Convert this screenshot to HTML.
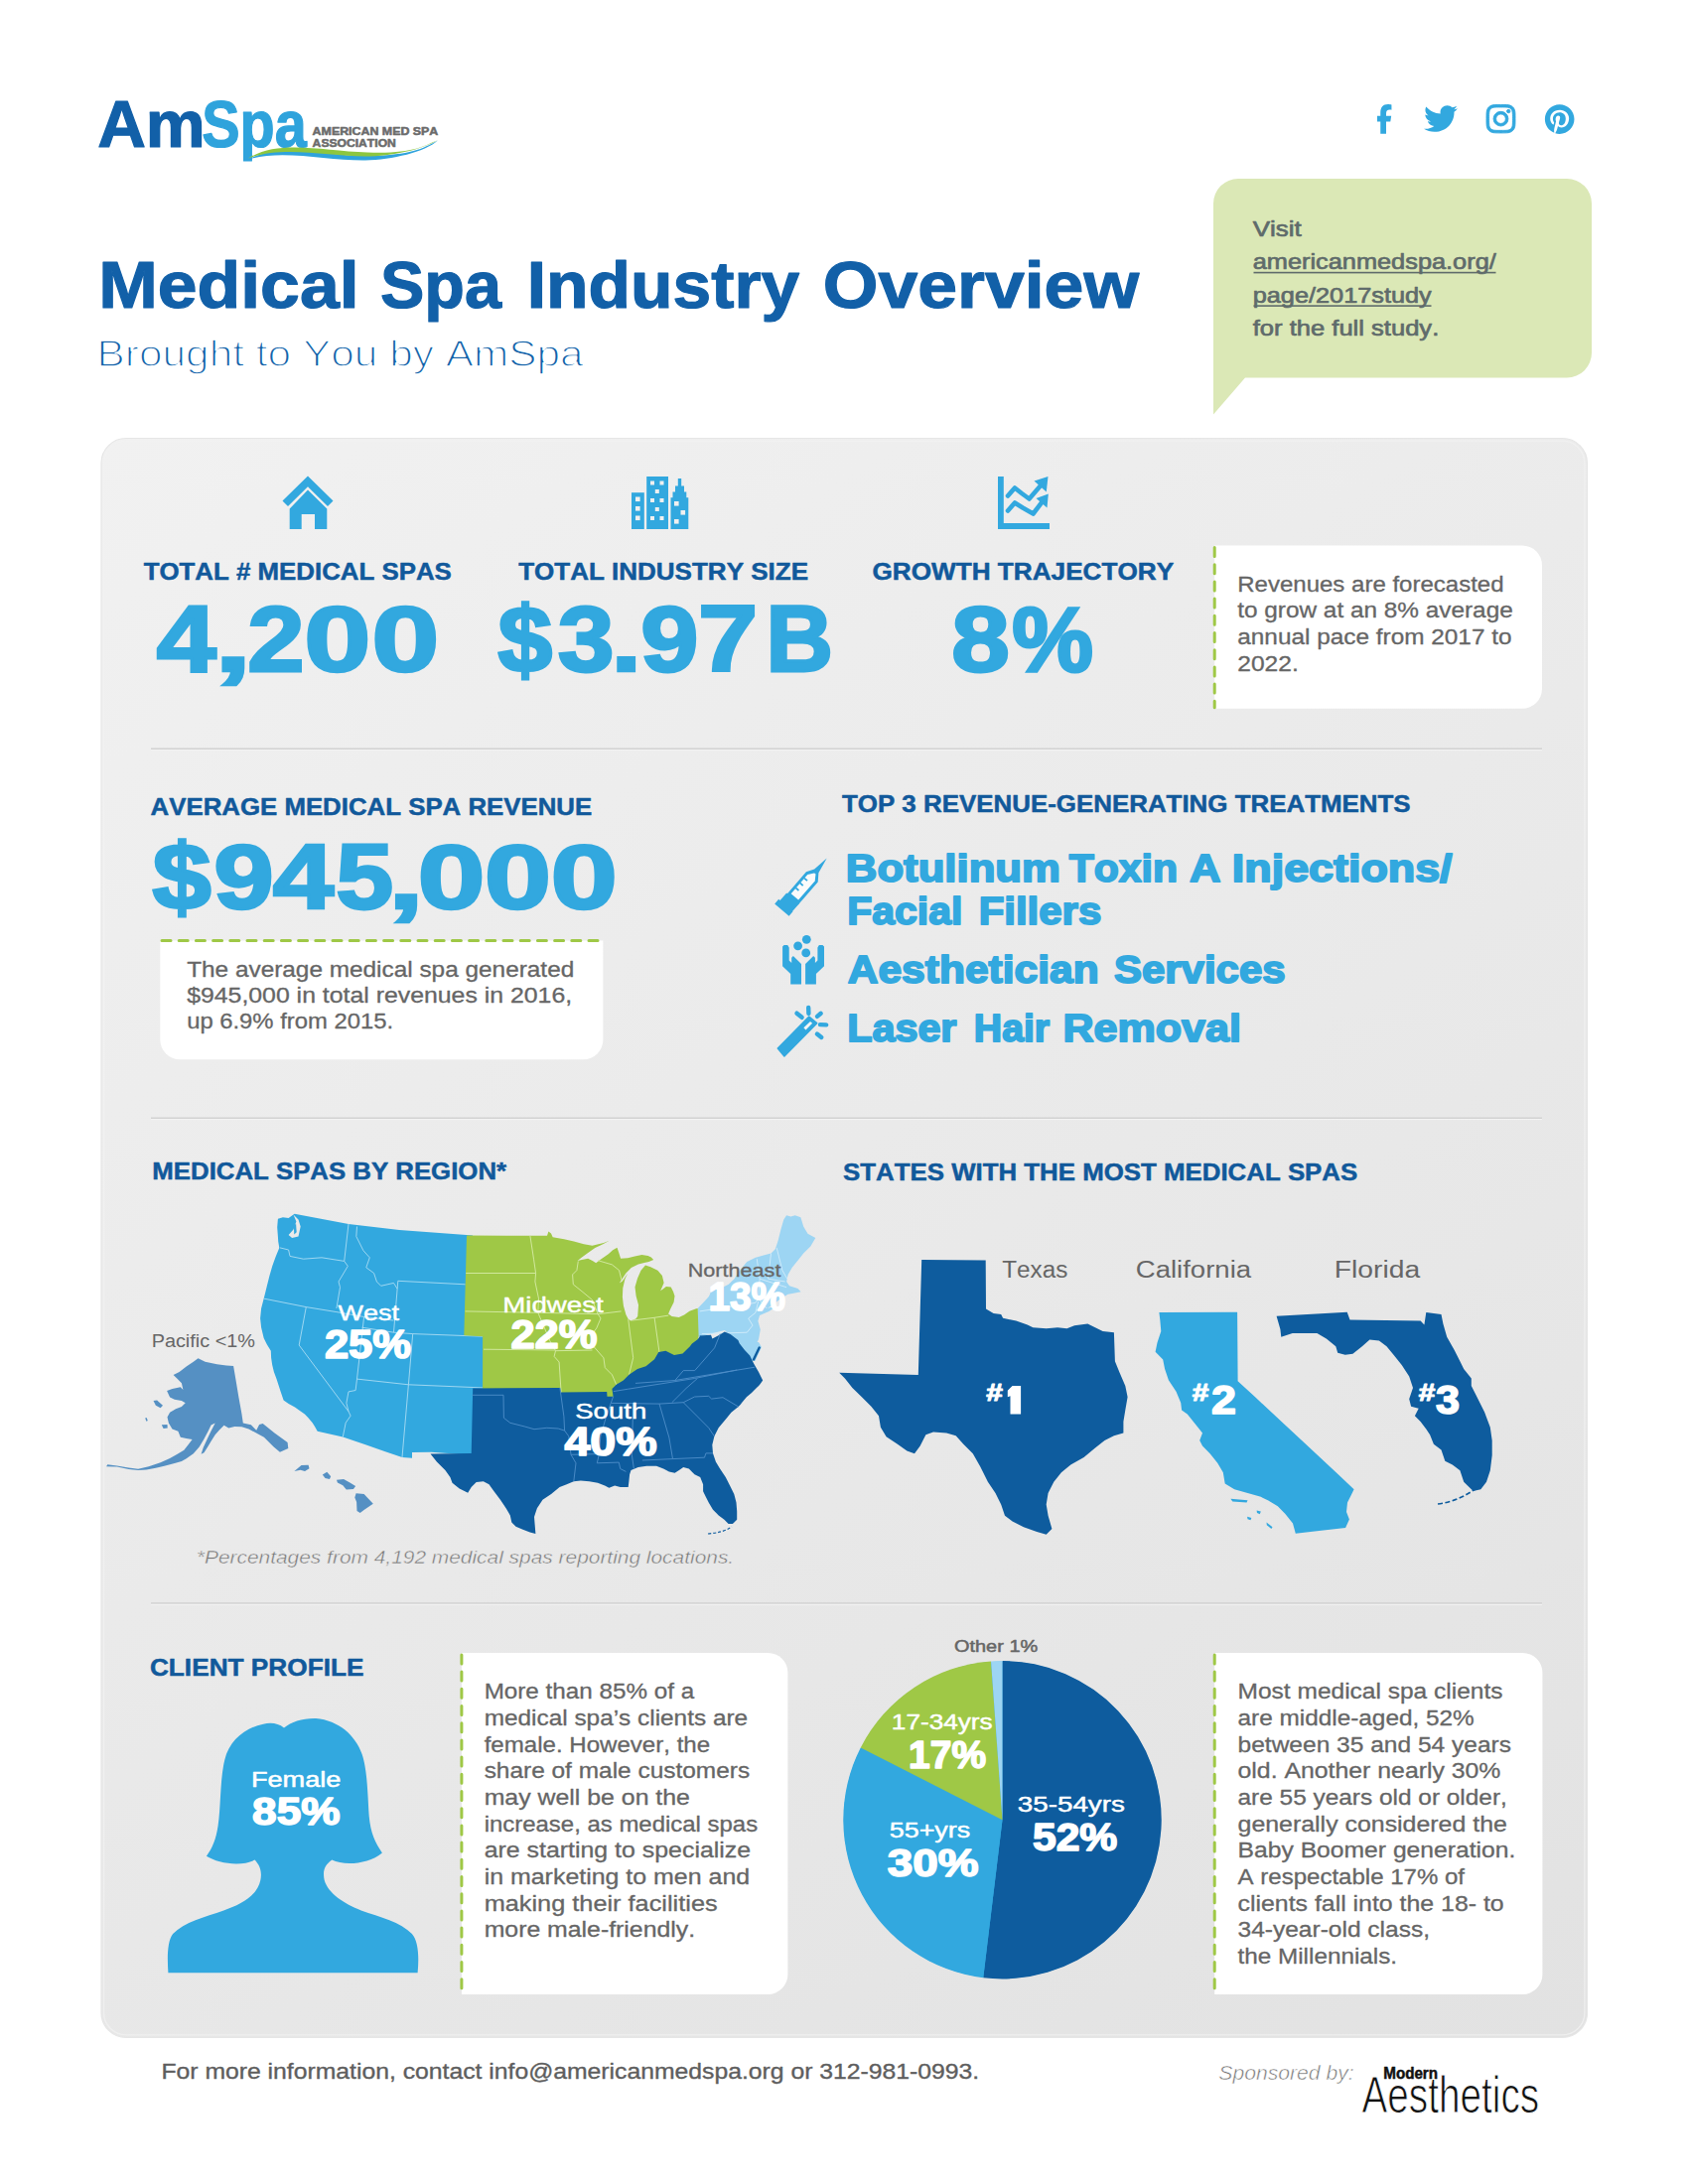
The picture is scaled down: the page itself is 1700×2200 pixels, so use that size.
<!DOCTYPE html>
<html lang="en"><head><meta charset="utf-8"><title>Medical Spa Industry Overview</title>
<style>html,body{margin:0;padding:0;background:#fff}svg{display:block}text{font-family:"Liberation Sans",sans-serif;white-space:pre;font-kerning:none}</style>
</head><body>
<svg width="1700" height="2200" viewBox="0 0 1700 2200">
<rect width="1700" height="2200" fill="#fff"/>
<text x="98.19" y="148.00" font-size="66.00" fill="#1260a8" font-weight="bold" textLength="108.62" lengthAdjust="spacingAndGlyphs" stroke="#1260a8" stroke-width="1.2" stroke-linejoin="round">Am</text>
<text x="203.19" y="148.00" font-size="66.00" fill="#2fa3dc" font-weight="bold" textLength="105.62" lengthAdjust="spacingAndGlyphs" stroke="#2fa3dc" stroke-width="1.2" stroke-linejoin="round">Spa</text>
<text x="314.64" y="135.50" font-size="10.20" fill="#6b6b6b" font-weight="bold" textLength="126.71" lengthAdjust="spacingAndGlyphs" stroke="#6b6b6b" stroke-width="0.5" stroke-linejoin="round">AMERICAN MED SPA</text>
<text x="314.64" y="147.50" font-size="10.20" fill="#6b6b6b" font-weight="bold" textLength="84.21" lengthAdjust="spacingAndGlyphs" stroke="#6b6b6b" stroke-width="0.5" stroke-linejoin="round">ASSOCIATION</text>
<path d="M250 160.5 C 285 142, 330 158, 372 157 S 425 150, 441 141.5 C 428 153, 395 161, 368 161.5 C 330 162, 285 150, 250 160.5Z" fill="#2fa3dc"/>
<path d="M250 159.5 C 280 140, 325 152, 370 153.5 S 425 148, 441 141 C 425 150.5, 395 157.5, 368 157.5 C 330 157.5, 285 146, 250 159.5Z" fill="#8dc63f"/>
<g fill="#32a8df">
<path transform="translate(1386.3 105.1) scale(0.0495 0.0578)" d="M80 299.3V512h116V299.3h86.5l18-97.8H196v-34.6c0-51.7 20.3-71.5 72.7-71.5 16.3 0 29.4.4 37 1.2V7.9C291.4 4 256.4 0 236.2 0 129.3 0 80 50.5 80 159.4v42.1H14v97.8z"/>
<path transform="translate(1434 103.1) scale(0.0663 0.064)" d="M459.4 151.7c.3 4.5.3 9.1.3 13.6 0 138.7-105.6 298.6-298.6 298.6-59.5 0-114.7-17.2-161.1-47.1 8.4 1 16.6 1.3 25.3 1.3 49.1 0 94.2-16.6 130.3-44.8-46.1-1-84.8-31.2-98.1-72.8 6.5 1 13 1.6 19.8 1.6 9.4 0 18.8-1.3 27.6-3.6-48.1-9.7-84.1-52-84.1-103v-1.3c14 7.8 30.2 12.7 47.4 13.3-28.3-18.8-46.8-51-46.8-87.4 0-19.5 5.2-37.4 14.3-53C87.4 130.8 165 172.4 252.1 176.9c-1.6-7.8-2.6-15.9-2.6-24C249.5 95.1 296.3 48 354.4 48c30.2 0 57.5 12.7 76.7 33.1 23.7-4.5 46.5-13.3 66.6-25.3-7.8 24.4-24.4 44.8-46.1 57.8 21.1-2.3 41.6-8.1 60.4-16.2-14.3 20.8-32.2 39.3-52.6 54.3"/>
<path stroke="#32a8df" stroke-width="14" transform="translate(1497 103.4) scale(0.0647 0.0636)" d="M224.3 141a115 115 0 1 0-.6 230 115 115 0 1 0 .6-230m-.6 40.4a74.6 74.6 0 1 1 .6 149.2 74.6 74.6 0 1 1-.6-149.2m93.4-45.1a26.8 26.8 0 1 1 53.6 0 26.8 26.8 0 1 1-53.6 0m129.7 27.2c-1.7-35.9-9.9-67.7-36.2-93.9-26.2-26.2-58-34.4-93.9-36.2-37-2.1-147.9-2.1-184.9 0-35.8 1.7-67.6 9.9-93.9 36.1s-34.4 58-36.2 93.9c-2.1 37-2.1 147.9 0 184.9 1.7 35.9 9.9 67.7 36.2 93.9s58 34.4 93.9 36.2c37 2.1 147.9 2.1 184.9 0 35.9-1.7 67.7-9.9 93.9-36.2 26.2-26.2 34.4-58 36.2-93.9 2.1-37 2.1-147.8 0-184.8M399 388c-7.8 19.6-22.9 34.7-42.6 42.6-29.5 11.7-99.5 9-132.1 9s-102.7 2.6-132.1-9c-19.6-7.8-34.7-22.9-42.6-42.6-11.7-29.5-9-99.5-9-132.1s-2.6-102.7 9-132.1c7.8-19.6 22.9-34.7 42.6-42.6 29.5-11.7 99.5-9 132.1-9s102.7-2.6 132.1 9c19.6 7.8 34.7 22.9 42.6 42.6 11.7 29.5 9 99.5 9 132.1s2.7 102.7-9 132.1"/>
<path transform="translate(1555.4 104.8) scale(0.0597)" d="M504 256c0 137-111 248-248 248-25.6 0-50.2-3.9-73.4-11.1 10.1-16.5 25.2-43.5 30.8-65 3-11.6 15.4-59 15.4-59 8.1 15.4 31.7 28.5 56.8 28.5 74.8 0 128.7-68.8 128.7-154.3 0-81.9-66.9-143.2-152.9-143.2-107 0-163.9 71.8-163.9 150.1 0 36.4 19.4 81.7 50.3 96.1 4.7 2.2 7.2 1.2 8.3-3.3.8-3.4 5-20.3 6.9-28.1.6-2.5.3-4.7-1.7-7.1-10.1-12.5-18.3-35.3-18.3-56.6 0-54.7 41.4-107.6 112-107.6 60.9 0 103.6 41.5 103.6 100.9 0 67.1-33.9 113.6-78 113.6-24.3 0-42.6-20.1-36.7-44.8 7-29.5 20.5-61.3 20.5-82.6 0-19-10.2-34.9-31.4-34.9-24.9 0-44.9 25.7-44.9 60.2 0 22 7.4 36.8 7.4 36.8s-24.500 103.8-29 123.200c-5 21.400-3 51.600-.900 71.200C73.400 450.900 8 361.100 8 256 8 119 119 8 256 8s248 111 248 248"/>
</g>
<text transform="translate(99.22 310.00) scale(1.0756 1)" font-size="66.50" fill="#1260a8" font-weight="bold" stroke="#1260a8" stroke-width="1.20" stroke-linejoin="round">Medical</text>
<text transform="translate(382.99 310.00) scale(0.9994 1)" font-size="66.50" fill="#1260a8" font-weight="bold" stroke="#1260a8" stroke-width="1.20" stroke-linejoin="round">Spa</text>
<text transform="translate(530.64 310.00) scale(1.0469 1)" font-size="66.50" fill="#1260a8" font-weight="bold" stroke="#1260a8" stroke-width="1.20" stroke-linejoin="round">Industry</text>
<text transform="translate(828.76 310.00) scale(1.0763 1)" font-size="66.50" fill="#1260a8" font-weight="bold" stroke="#1260a8" stroke-width="1.20" stroke-linejoin="round">Overview</text>
<text x="97.59" y="369.00" font-size="37.50" fill="#1260a8" textLength="490.12" lengthAdjust="spacingAndGlyphs" stroke="#ffffff" stroke-width="1.45" stroke-linejoin="round">Brought to You by AmSpa</text>
<path d="M1247 180 H1578 A25 25 0 0 1 1603 205 V355.500 A25 25 0 0 1 1578 380.500 H1254 L1222 417.500 V205 A25 25 0 0 1 1247 180Z" fill="#dbe8b6"/>
<text x="1261.71" y="238.00" font-size="22.50" fill="#5f6b6b" textLength="49.08" lengthAdjust="spacingAndGlyphs" stroke="#5f6b6b" stroke-width="0.7" stroke-linejoin="round">Visit</text>
<text x="1261.71" y="271.20" font-size="22.50" fill="#5f6b6b" textLength="245.07" lengthAdjust="spacingAndGlyphs" stroke="#5f6b6b" stroke-width="0.7" stroke-linejoin="round">americanmedspa.org/</text>
<rect x="1262.5" y="273.8" width="244" height="1.6" fill="#5f6b6b"/>
<text x="1261.71" y="304.80" font-size="22.50" fill="#5f6b6b" textLength="180.07" lengthAdjust="spacingAndGlyphs" stroke="#5f6b6b" stroke-width="0.7" stroke-linejoin="round">page/2017study</text>
<rect x="1262.5" y="307.3" width="179" height="1.6" fill="#5f6b6b"/>
<text x="1261.71" y="337.50" font-size="22.50" fill="#5f6b6b" textLength="187.57" lengthAdjust="spacingAndGlyphs" stroke="#5f6b6b" stroke-width="0.7" stroke-linejoin="round">for the full study.</text>
<defs><linearGradient id="pg" x1="0" y1="0" x2="0.694" y2="1.18"><stop offset="0" stop-color="#f1f1f1"/><stop offset="1" stop-color="#e2e2e2"/></linearGradient></defs>
<rect x="102" y="441.500" width="1496.500" height="1611" rx="25" fill="url(#pg)" stroke="#e6e6e6" stroke-width="1.2"/>
<rect x="104.6" y="444.1" width="1491.300" height="1605.8" rx="22.5" fill="none" stroke="#f2f2f2" stroke-opacity="0.75" stroke-width="1.4"/>
<rect x="152" y="753.5" width="1401" height="1.6" fill="#d2d2d2"/>
<rect x="152" y="755.0999999999999" width="1401" height="1" fill="#f4f4f4"/>
<rect x="152" y="1125.5" width="1401" height="1.6" fill="#d2d2d2"/>
<rect x="152" y="1127.1" width="1401" height="1" fill="#f4f4f4"/>
<rect x="152" y="1614.2" width="1401" height="1.6" fill="#d2d2d2"/>
<rect x="152" y="1615.8" width="1401" height="1" fill="#f4f4f4"/>
<g fill="#32a8df">
<path d="M310 479.500 L335.500 504.500 L330 510 L310 490.300 L290 510 L284.500 504.500Z"/>
<path d="M310 493.500 L329.300 512.500 V533 H317 V518 H303.700 V533 H291.700 V512.500Z"/>
</g>
<text x="144.65" y="584.30" font-size="24.30" fill="#11599b" font-weight="bold" textLength="310.20" lengthAdjust="spacingAndGlyphs" stroke="#11599b" stroke-width="0.5" stroke-linejoin="round">TOTAL # MEDICAL SPAS</text>
<text transform="translate(157.87 675.50) scale(1.1858 1.0302)" font-size="91.00" fill="#32a8df" font-weight="bold" stroke="#32a8df" stroke-width="2.71" stroke-linejoin="miter">4</text>
<text transform="translate(215.75 675.50) scale(1.4978 1.0000)" font-size="91.00" fill="#32a8df" font-weight="bold" stroke="#32a8df" stroke-width="2.40" stroke-linejoin="miter">,</text>
<text transform="translate(249.13 675.50) scale(1.1321 1.0151)" font-size="91.00" fill="#32a8df" font-weight="bold" stroke="#32a8df" stroke-width="2.79" stroke-linejoin="miter">2</text>
<text transform="translate(306.22 675.50) scale(1.3286 1.0151)" font-size="91.00" fill="#32a8df" font-weight="bold" stroke="#32a8df" stroke-width="2.56" stroke-linejoin="miter">0</text>
<text transform="translate(374.15 675.50) scale(1.3471 1.0151)" font-size="91.00" fill="#32a8df" font-weight="bold" stroke="#32a8df" stroke-width="2.54" stroke-linejoin="miter">0</text>
<g fill="#32a8df">
<rect x="636" y="496.2" width="12.8" height="36.8"/>
<rect x="651.200" y="480" width="21.8" height="53"/>
<path d="M675.500 533 V501.200 H677.500 V495.500 H680 V489.500 H682.800 V482 H686.200 V489.500 H689 V495.500 H691.300 V501.200 H693.300 V533Z"/>
</g>
<g fill="#f0f0f0">
<rect x="640" y="500.5" width="4.6" height="4.6"/>
<rect x="640" y="510" width="4.6" height="4.6"/>
<rect x="640" y="519.5" width="4.6" height="4.6"/>
<rect x="655" y="484.5" width="4" height="4"/>
<rect x="664.5" y="484.5" width="4" height="4"/>
<rect x="659.8" y="493" width="4" height="4"/>
<rect x="655" y="502" width="4" height="4"/>
<rect x="664.5" y="502" width="4" height="4"/>
<rect x="659.8" y="511" width="4" height="4"/>
<rect x="655" y="520" width="4" height="4"/>
<rect x="664.5" y="520" width="4" height="4"/>
<rect x="679" y="505" width="4.6" height="4.6"/>
<rect x="685.5" y="514" width="4.6" height="4.6"/>
<rect x="679" y="523" width="4.6" height="4.6"/>
</g>
<text x="522.15" y="584.30" font-size="24.30" fill="#11599b" font-weight="bold" textLength="291.90" lengthAdjust="spacingAndGlyphs" stroke="#11599b" stroke-width="0.5" stroke-linejoin="round">TOTAL INDUSTRY SIZE</text>
<text transform="translate(501.40 677.00) scale(1.0390 1.0000)" font-size="94.64" fill="#32a8df" font-weight="bold" stroke="#32a8df" stroke-width="2.94" stroke-linejoin="miter">$</text>
<text transform="translate(561.66 675.50) scale(1.1209 1.0151)" font-size="91.00" fill="#32a8df" font-weight="bold" stroke="#32a8df" stroke-width="2.81" stroke-linejoin="miter">3</text>
<text transform="translate(615.54 675.50) scale(1.2070 1.0000)" font-size="91.00" fill="#32a8df" font-weight="bold" stroke="#32a8df" stroke-width="2.72" stroke-linejoin="miter">.</text>
<text transform="translate(645.37 675.50) scale(1.1502 1.0151)" font-size="91.00" fill="#32a8df" font-weight="bold" stroke="#32a8df" stroke-width="2.77" stroke-linejoin="miter">9</text>
<text transform="translate(703.05 675.50) scale(1.1897 1.0302)" font-size="91.00" fill="#32a8df" font-weight="bold" stroke="#32a8df" stroke-width="2.70" stroke-linejoin="miter">7</text>
<text transform="translate(771.45 675.50) scale(1.0271 1.0302)" font-size="91.00" fill="#32a8df" font-weight="bold" stroke="#32a8df" stroke-width="2.92" stroke-linejoin="miter">B</text>
<g fill="none" stroke="#32a8df">
<path d="M1007.900 480 V530 H1057" stroke-width="5.8"/>
<path d="M1015 499.500 L1022 491.500 L1029 497 L1036.500 502.500 L1049 488" stroke-width="4.6" stroke-linejoin="round" stroke-linecap="round"/>
<path d="M1015 514.500 L1022 506.500 L1030 511.500 L1040.500 517.500 L1050 505" stroke-width="4.6" stroke-linejoin="round" stroke-linecap="round"/>
</g>
<path d="M1055.500 480 L1053.800 495.500 L1041.500 484.500Z" fill="#32a8df"/>
<path d="M1055.800 497.500 L1054.500 511.500 L1043.500 502Z" fill="#32a8df"/>
<text x="878.45" y="584.30" font-size="24.30" fill="#11599b" font-weight="bold" textLength="303.70" lengthAdjust="spacingAndGlyphs" stroke="#11599b" stroke-width="0.5" stroke-linejoin="round">GROWTH TRAJECTORY</text>
<text transform="translate(958.16 675.50) scale(1.1576 1.0151)" font-size="91.00" fill="#32a8df" font-weight="bold" stroke="#32a8df" stroke-width="2.76" stroke-linejoin="miter">8</text>
<text transform="translate(1019.21 675.50) scale(1.0099 1.0187)" font-size="91.00" fill="#32a8df" font-weight="bold" stroke="#32a8df" stroke-width="2.96" stroke-linejoin="miter">%</text>
<path d="M1223.2 549.5 H1533 A20 20 0 0 1 1553 569.5 V693.8 A20 20 0 0 1 1533 713.8 H1223.2Z" fill="#fff"/>
<line x1="1223.2" y1="551.5" x2="1223.2" y2="712.8" stroke="#9fc846" stroke-width="3" stroke-dasharray="9 8.2" stroke-linecap="round"/>
<text x="1246.25" y="595.50" font-size="21.50" fill="#666666" textLength="268.31" lengthAdjust="spacingAndGlyphs" stroke="#666666" stroke-width="0.3" stroke-linejoin="round">Revenues are forecasted</text>
<text x="1246.25" y="622.25" font-size="21.50" fill="#666666" textLength="277.50" lengthAdjust="spacingAndGlyphs" stroke="#666666" stroke-width="0.3" stroke-linejoin="round">to grow at an 8% average</text>
<text x="1246.25" y="649.00" font-size="21.50" fill="#666666" textLength="276.31" lengthAdjust="spacingAndGlyphs" stroke="#666666" stroke-width="0.3" stroke-linejoin="round">annual pace from 2017 to</text>
<text x="1246.25" y="675.75" font-size="21.50" fill="#666666" textLength="61.51" lengthAdjust="spacingAndGlyphs" stroke="#666666" stroke-width="0.3" stroke-linejoin="round">2022.</text>
<text x="151.55" y="820.60" font-size="24.30" fill="#11599b" font-weight="bold" textLength="444.70" lengthAdjust="spacingAndGlyphs" stroke="#11599b" stroke-width="0.5" stroke-linejoin="round">AVERAGE MEDICAL SPA REVENUE</text>
<text transform="translate(153.40 916.30) scale(1.1250 1.0000)" font-size="94.64" fill="#32a8df" font-weight="bold" stroke="#32a8df" stroke-width="2.82" stroke-linejoin="miter">$</text>
<text transform="translate(215.33 914.80) scale(1.1956 1.0041)" font-size="91.00" fill="#32a8df" font-weight="bold" stroke="#32a8df" stroke-width="2.73" stroke-linejoin="miter">9</text>
<text transform="translate(274.63 914.80) scale(1.2145 1.0191)" font-size="91.00" fill="#32a8df" font-weight="bold" stroke="#32a8df" stroke-width="2.69" stroke-linejoin="miter">4</text>
<text transform="translate(338.20 914.80) scale(1.1440 1.0191)" font-size="91.00" fill="#32a8df" font-weight="bold" stroke="#32a8df" stroke-width="2.77" stroke-linejoin="miter">5</text>
<text transform="translate(390.53 914.80) scale(1.4517 1.0000)" font-size="91.00" fill="#32a8df" font-weight="bold" stroke="#32a8df" stroke-width="2.45" stroke-linejoin="miter">,</text>
<text transform="translate(420.45 914.80) scale(1.3471 1.0041)" font-size="91.00" fill="#32a8df" font-weight="bold" stroke="#32a8df" stroke-width="2.55" stroke-linejoin="miter">0</text>
<text transform="translate(487.70 914.80) scale(1.3332 1.0041)" font-size="91.00" fill="#32a8df" font-weight="bold" stroke="#32a8df" stroke-width="2.57" stroke-linejoin="miter">0</text>
<text transform="translate(554.40 914.80) scale(1.3332 1.0041)" font-size="91.00" fill="#32a8df" font-weight="bold" stroke="#32a8df" stroke-width="2.57" stroke-linejoin="miter">0</text>
<path d="M161.300 947.400 H607.400 V1047.300 A20 20 0 0 1 587.400 1067.300 H181.300 A20 20 0 0 1 161.300 1047.300Z" fill="#fff"/>
<line x1="163" y1="947.400" x2="606.500" y2="947.400" stroke="#9fc846" stroke-width="3" stroke-dasharray="9 8.2" stroke-linecap="round"/>
<text x="188.15" y="983.50" font-size="21.50" fill="#666666" textLength="390.11" lengthAdjust="spacingAndGlyphs" stroke="#666666" stroke-width="0.3" stroke-linejoin="round">The average medical spa generated</text>
<text x="188.15" y="1009.90" font-size="21.50" fill="#666666" textLength="388.00" lengthAdjust="spacingAndGlyphs" stroke="#666666" stroke-width="0.3" stroke-linejoin="round">$945,000 in total revenues in 2016,</text>
<text x="188.15" y="1036.30" font-size="21.50" fill="#666666" textLength="207.91" lengthAdjust="spacingAndGlyphs" stroke="#666666" stroke-width="0.3" stroke-linejoin="round">up 6.9% from 2015.</text>
<text x="847.95" y="818.20" font-size="24.30" fill="#11599b" font-weight="bold" textLength="572.70" lengthAdjust="spacingAndGlyphs" stroke="#11599b" stroke-width="0.5" stroke-linejoin="round">TOP 3 REVENUE-GENERATING TREATMENTS</text>
<text transform="translate(851.83 887.90) scale(1.1069 1)" font-size="39.50" fill="#32a8df" font-weight="bold" stroke="#32a8df" stroke-width="1.90" stroke-linejoin="round">Botulinum</text>
<text transform="translate(1076.69 887.90) scale(1.0377 1)" font-size="39.50" fill="#32a8df" font-weight="bold" stroke="#32a8df" stroke-width="1.90" stroke-linejoin="round">Toxin</text>
<text transform="translate(1197.97 887.90) scale(1.1019 1)" font-size="39.50" fill="#32a8df" font-weight="bold" stroke="#32a8df" stroke-width="1.90" stroke-linejoin="round">A</text>
<text transform="translate(1240.85 887.90) scale(1.1351 1)" font-size="39.50" fill="#32a8df" font-weight="bold" stroke="#32a8df" stroke-width="1.90" stroke-linejoin="round">Injections/</text>
<text transform="translate(853.21 931.10) scale(1.0381 1)" font-size="39.50" fill="#32a8df" font-weight="bold" stroke="#32a8df" stroke-width="1.90" stroke-linejoin="round">Facial</text>
<text transform="translate(985.64 931.10) scale(1.0625 1)" font-size="39.50" fill="#32a8df" font-weight="bold" stroke="#32a8df" stroke-width="1.90" stroke-linejoin="round">Fillers</text>
<text transform="translate(853.69 989.60) scale(1.0771 1)" font-size="39.50" fill="#32a8df" font-weight="bold" stroke="#32a8df" stroke-width="1.90" stroke-linejoin="round">Aesthetician</text>
<text transform="translate(1121.94 989.60) scale(1.0627 1)" font-size="39.50" fill="#32a8df" font-weight="bold" stroke="#32a8df" stroke-width="1.90" stroke-linejoin="round">Services</text>
<text transform="translate(853.19 1048.60) scale(1.0464 1)" font-size="39.50" fill="#32a8df" font-weight="bold" stroke="#32a8df" stroke-width="1.90" stroke-linejoin="round">Laser</text>
<text transform="translate(980.83 1048.60) scale(0.9932 1)" font-size="39.50" fill="#32a8df" font-weight="bold" stroke="#32a8df" stroke-width="1.90" stroke-linejoin="round">Hair</text>
<text transform="translate(1070.47 1048.60) scale(1.0903 1)" font-size="39.50" fill="#32a8df" font-weight="bold" stroke="#32a8df" stroke-width="1.90" stroke-linejoin="round">Removal</text>
<path d="M780.2 910.4 L784.2 905.8 L785.6 907.1 L792.2 899.5 L804.7 910.4 L798.1 918.0 L798.5 918.3 L794.6 922.8Z" fill="#32a8df" />
<path d="M792.3 900.9 L811.9 878.3 L820.2 875.5 L832.7 864.5 L824.4 879.2 L823.7 888.5 L804.0 911.2Z" fill="#32a8df" />
<path d="M796.7 900.2 L813.3 881.1 L820.1 879.4 L821.5 880.6 L820.7 887.5 L804.1 906.6Z" fill="#fbfbfb" />
<path d="M800.8 895.0 L802.0 893.7 L805.0 896.3 L803.9 897.7Z" fill="#32a8df" />
<path d="M805.1 890.1 L806.3 888.8 L809.3 891.4 L808.1 892.8Z" fill="#32a8df" />
<path d="M809.4 885.2 L810.6 883.9 L813.6 886.5 L812.4 887.8Z" fill="#32a8df" />
<g fill="#32a8df">
<path d="M788.1 953.5 L789.6 952.0 L793.2 952.0 L794.7 954.5 L794.7 967.5 L797.2 970.0 L797.2 964.8 L798.9 963.1 L807.0 971.1 L807.0 991.4 L796.2 991.4 L796.2 981.0 L788.1 973.2Z" fill="#32a8df" />
<path d="M830.0 953.5 L828.5 952.0 L824.9 952.0 L823.4 954.5 L823.4 967.5 L820.9 970.0 L820.9 964.8 L819.2 963.1 L811.1 971.1 L811.1 991.4 L821.9 991.4 L821.9 981.0 L830.0 973.2Z" fill="#32a8df" />
<circle cx="803.6" cy="952.8" r="4.4"/>
<circle cx="812.3" cy="946.3" r="4.4"/>
<circle cx="811.7" cy="959.9" r="4.4"/>
</g>
<path d="M783.3 1056.0 L814.8 1024.1 L822.7 1030.7 L789.9 1063.9Z" fill="#32a8df" stroke="#32a8df" stroke-width="1.5" stroke-linejoin="round"/>
<path d="M816.0 1029.0 L818.1 1030.7 L811.5 1037.4 L809.4 1035.3Z" fill="#f6f6f6" />
<line x1="802.5" y1="1020.7" x2="807.6" y2="1024.8" stroke="#32a8df" stroke-width="4.4" stroke-linecap="round"/>
<line x1="814.2" y1="1015" x2="814.4" y2="1021" stroke="#32a8df" stroke-width="4.4" stroke-linecap="round"/>
<line x1="826.7" y1="1020.8" x2="823" y2="1023.9" stroke="#32a8df" stroke-width="4.4" stroke-linecap="round"/>
<line x1="826" y1="1032.1" x2="832.2" y2="1032.4" stroke="#32a8df" stroke-width="4.4" stroke-linecap="round"/>
<line x1="822.9" y1="1041.5" x2="827.3" y2="1045" stroke="#32a8df" stroke-width="4.4" stroke-linecap="round"/>
<text x="153.35" y="1188.30" font-size="24.30" fill="#11599b" font-weight="bold" textLength="356.70" lengthAdjust="spacingAndGlyphs" stroke="#11599b" stroke-width="0.5" stroke-linejoin="round">MEDICAL SPAS BY REGION*</text>
<text x="849.05" y="1188.50" font-size="24.30" fill="#11599b" font-weight="bold" textLength="518.20" lengthAdjust="spacingAndGlyphs" stroke="#11599b" stroke-width="0.5" stroke-linejoin="round">STATES WITH THE MOST MEDICAL SPAS</text>
<path d="M279.9 1227.7 L284.9 1226.3 L290.6 1227.0 L295.5 1223.5 L296.7 1222.7 L351.0 1233.0 L402.2 1239.1 L469.7 1244.1 L476.0 1244.5 L476.0 1300.0 L492.0 1345.0 L492.0 1401.0 L480.0 1401.0 L478.0 1466.0 L434.2 1462.7 L415.0 1463.0 L415.0 1468.7 L405.0 1468.0 L388.0 1462.3 L368.1 1455.2 L345.3 1447.4 L319.7 1441.7 L316.9 1436.7 L314.7 1433.2 L310.5 1428.2 L306.9 1424.6 L301.2 1420.4 L297.0 1417.5 L290.6 1414.0 L285.6 1410.4 L282.7 1401.9 L278.5 1389.1 L275.9 1382.0 L274.2 1374.9 L273.1 1367.8 L272.8 1360.7 L268.8 1354.3 L265.7 1347.9 L263.1 1337.2 L262.1 1328.0 L263.1 1318.0 L265.7 1308.1 L267.1 1302.4 L268.5 1296.7 L271.4 1285.3 L274.2 1275.4 L277.8 1265.4 L281.3 1256.9 L280.2 1250.5 L279.9 1245.5 L279.2 1236.3Z" fill="#32a8df" />
<path d="M295.5 1223.5 L300.5 1228.4 L302.7 1235.5 L300.5 1245.5 L294.1 1246.9 L290.6 1244.1 L295.5 1238.4 L298.4 1230.6Z" fill="#eaeaea" />
<path d="M295.8 1234.8 L298.1 1232.7 L298.7 1241.2 L296.3 1243.4Z" fill="#32a8df" />
<g fill="none" stroke="#a9dbf3" stroke-width="0.9" stroke-linejoin="round">
<path d="M282.0 1256.9 L290.6 1259.0 L292.0 1265.4 L305.5 1268.2 L324.0 1266.8 L346.7 1270.4"/>
<path d="M351.0 1233.0 L346.7 1270.4 L350.3 1275.4 L341.0 1291.0 L342.5 1296.7 L338.9 1318.0"/>
<path d="M359.5 1235.5 L358.8 1245.5 L365.9 1259.7 L372.3 1266.8 L368.8 1276.8 L376.6 1282.5 L379.4 1291.0 L383.7 1295.3 L396.5 1292.4 L400.0 1298.1"/>
<path d="M265.7 1308.1 L308.3 1316.6 L338.9 1321.6 L366.6 1326.5 L396.5 1330.1"/>
<path d="M308.3 1316.6 L301.2 1355.0 L351.0 1421.8 L353.1 1426.1 L348.2 1433.2 L345.3 1447.4"/>
<path d="M366.6 1326.5 L359.5 1389.1 L358.1 1400.5 L351.0 1401.9 L348.9 1413.3 L351.0 1421.8"/>
<path d="M400.8 1290.3 L468.7 1293.8"/>
<path d="M400.8 1290.3 L396.5 1342.2 L364.5 1337.2"/>
<path d="M396.5 1342.2 L415.7 1343.6 L486.1 1346.2"/>
<path d="M415.7 1343.6 L411.4 1394.8 L405.0 1468.0"/>
<path d="M359.5 1389.1 L411.4 1394.8 L486.1 1397.9"/>
</g>
<path d="M702.6 1318.0 L708.2 1312.3 L713.9 1305.9 L716.8 1299.5 L725.3 1298.1 L733.8 1293.8 L739.5 1288.2 L745.2 1279.6 L752.3 1271.1 L760.9 1266.8 L768.0 1264.7 L776.5 1262.6 L780.8 1258.3 L783.6 1249.8 L786.4 1238.4 L789.3 1228.4 L792.1 1224.2 L796.4 1225.6 L800.7 1224.2 L806.4 1226.3 L809.2 1235.5 L813.5 1242.7 L821.3 1246.9 L816.3 1255.5 L809.2 1262.6 L803.5 1269.7 L797.8 1276.8 L793.6 1283.9 L792.1 1291.0 L795.0 1295.3 L803.5 1298.1 L806.6 1301.2 L799.2 1302.7 L793.6 1303.8 L786.4 1308.1 L779.3 1313.7 L772.9 1317.7 L782.9 1315.5 L774.4 1321.1 L765.1 1325.1 L763.4 1330.8 L765.8 1339.3 L764.0 1349.3 L760.9 1355.0 L758.3 1351.0 L764.0 1352.0 L767.0 1357.0 L760.5 1371.0 L757.0 1371.0 L755.0 1367.0 L740.0 1352.0 L730.0 1340.0 L702.0 1347.0Z" fill="#9dd5f3" />
<g fill="none" stroke="#d3ecfa" stroke-width="0.9">
<path d="M704.7 1320.9 L760.9 1312.3 L763.7 1308.1"/>
<path d="M762.3 1268.2 L765.1 1288.2 L763.7 1308.1 L772.2 1318.0"/>
<path d="M776.5 1262.6 L773.6 1288.2 L790.7 1291.0"/>
<path d="M782.2 1256.9 L787.9 1279.6 L792.8 1288.2"/>
<path d="M765.1 1288.2 L792.1 1296.7"/>
<path d="M752.3 1342.2 L758.0 1335.1 L753.7 1328.0 L760.9 1322.3 L763.7 1310.9"/>
<path d="M706.8 1343.6 L752.3 1342.2"/>
</g>
<path d="M470.0 1244.4 L533.9 1244.8 L551.0 1244.8 L552.4 1240.5 L555.0 1242.4 L556.7 1246.2 L568.1 1248.3 L578.0 1250.5 L588.0 1253.3 L596.5 1254.7 L607.9 1251.9 L613.6 1249.8 L607.3 1253.3 L599.3 1257.1 L592.2 1262.0 L586.0 1266.4 L581.6 1270.0 L586.0 1269.1 L592.2 1267.8 L596.7 1270.0 L600.2 1272.2 L605.5 1268.2 L612.7 1263.3 L617.1 1259.3 L621.5 1256.7 L623.3 1262.0 L625.1 1267.8 L632.2 1267.3 L639.3 1265.5 L646.4 1263.9 L652.6 1265.1 L655.8 1266.6 L658.2 1269.1 L653.5 1271.1 L650.0 1271.8 L642.9 1273.5 L635.8 1277.1 L630.4 1282.4 L626.9 1287.8 L623.8 1292.6 L626.9 1290.4 L632.2 1282.4 L629.4 1288.6 L627.3 1297.5 L626.9 1306.4 L627.9 1315.3 L630.4 1324.2 L632.6 1328.6 L635.3 1330.6 L640.2 1328.6 L642.2 1326.0 L643.0 1314.4 L640.6 1305.5 L639.5 1296.6 L642.0 1287.8 L645.5 1279.8 L650.0 1274.4 L655.3 1276.2 L662.4 1279.8 L666.9 1285.1 L668.6 1292.2 L666.4 1297.5 L665.1 1300.2 L667.7 1298.4 L670.9 1295.9 L675.7 1296.6 L678.0 1301.1 L679.5 1305.5 L678.6 1311.8 L675.0 1318.9 L673.1 1323.5 L676.6 1326.1 L683.7 1327.0 L689.1 1324.4 L694.4 1320.8 L701.1 1318.2 L702.7 1318.0 L703.6 1346.0 L700.0 1366.0 L660.0 1382.0 L618.0 1411.0 L563.5 1409.0 L563.5 1401.0 L486.1 1401.0 L486.1 1346.2 L467.3 1345.3 L468.7 1293.8Z" fill="#9fc846" />
<g fill="none" stroke="#d6eba6" stroke-width="0.9" stroke-linejoin="round">
<path d="M469.2 1282.5 L539.6 1282.5"/>
<path d="M533.9 1244.8 L537.5 1268.2 L539.6 1282.5 L538.9 1291.0 L542.5 1308.1 L541.8 1322.3"/>
<path d="M468.5 1320.9 L541.8 1322.3 L602.2 1323.7 L625.6 1320.9"/>
<path d="M541.8 1322.3 L546.7 1333.6 L553.8 1350.7 L559.5 1360.7 L558.1 1366.4 L563.1 1372.0 L565.2 1404.0"/>
<path d="M487.0 1359.2 L559.5 1360.0"/>
<path d="M582.3 1270.4 L580.9 1279.6 L576.6 1283.9 L577.3 1293.8 L588.0 1302.4 L596.5 1309.5 L602.2 1323.7 L605.0 1328.0 L600.8 1337.9 L596.5 1343.6 L597.9 1356.4 L607.9 1367.8 L609.3 1377.7 L616.4 1384.8 L620.7 1394.8"/>
<path d="M559.5 1360.7 L596.5 1360.0"/>
<path d="M602.2 1269.7 L616.4 1273.9 L623.5 1279.6 L626.4 1291.0"/>
<path d="M632.7 1328.7 L637.7 1367.8 L633.5 1384.8"/>
<path d="M636.3 1330.1 L659.1 1327.3 L673.3 1325.1"/>
<path d="M659.1 1327.3 L664.0 1362.1"/>
</g>
<path d="M433.5 1464.6 L474.7 1463.9 L476.2 1398.5 L563.9 1397.9 L564.7 1402.5 L611.2 1402.0 L611.5 1406.7 L617.6 1406.7 L616.4 1399.1 L620.7 1394.8 L627.8 1390.5 L633.5 1384.8 L642.0 1379.1 L650.5 1376.3 L659.1 1369.2 L663.3 1362.1 L670.4 1360.7 L679.0 1364.9 L687.5 1363.5 L694.6 1356.4 L692.6 1359.2 L696.9 1353.6 L702.6 1349.3 L705.4 1345.3 L703.7 1345.4 L716.0 1344.7 L717.4 1348.6 L724.0 1345.0 L729.8 1341.5 L735.6 1344.1 L743.4 1350.0 L744.7 1353.2 L750.0 1360.0 L755.2 1365.6 L759.1 1373.4 L764.0 1382.0 L768.2 1390.4 L765.0 1395.0 L761.7 1398.2 L757.0 1403.0 L751.9 1407.3 L745.4 1415.1 L747.9 1412.7 L743.6 1417.0 L736.5 1422.7 L730.8 1429.8 L723.7 1438.3 L719.4 1446.8 L717.3 1455.4 L718.0 1463.9 L720.9 1472.4 L725.1 1479.5 L730.8 1488.1 L735.1 1496.6 L739.3 1505.1 L741.5 1513.6 L742.2 1522.2 L742.2 1530.7 L737.9 1535.0 L733.6 1535.0 L729.4 1530.7 L723.7 1526.4 L718.0 1520.8 L713.7 1513.6 L710.9 1508.0 L708.1 1502.3 L708.1 1495.2 L705.2 1488.1 L699.5 1485.2 L693.8 1479.5 L688.2 1478.1 L683.9 1480.9 L679.6 1483.8 L673.9 1482.4 L668.2 1479.5 L661.1 1476.7 L651.2 1476.7 L642.7 1478.1 L635.5 1480.9 L634.1 1485.2 L633.4 1492.3 L632.7 1498.0 L631.8 1498.0 L624.7 1498.0 L619.1 1496.6 L613.4 1498.7 L609.1 1496.6 L602.0 1493.7 L593.5 1492.3 L584.9 1491.6 L577.8 1492.3 L570.7 1495.2 L563.6 1498.0 L555.1 1505.1 L546.5 1510.8 L540.9 1519.3 L538.0 1527.9 L538.7 1536.4 L539.4 1544.9 L533.7 1543.5 L526.6 1540.7 L519.5 1537.8 L515.3 1533.6 L513.8 1526.4 L509.6 1519.3 L503.9 1510.8 L497.5 1502.3 L492.5 1495.2 L486.8 1492.3 L479.7 1493.0 L474.7 1498.0 L471.2 1503.7 L462.7 1499.4 L455.5 1493.7 L453.4 1488.1 L448.4 1480.9 L439.9 1472.4Z" fill="#0e5c9e" />
<line x1="764.7" y1="1357.5" x2="759" y2="1369.5" stroke="#0e5c9e" stroke-width="2.4" stroke-linecap="round"/>
<path d="M713 1545 Q728 1544 737 1538" fill="none" stroke="#0e5c9e" stroke-width="1.2" stroke-dasharray="3 2"/>
<g fill="none" stroke="#4f8fc9" stroke-width="0.9" stroke-linejoin="round">
<path d="M475.5 1405.3 L507.0 1405.3 L507.4 1428.3 L513.8 1433.3 L528.1 1436.9 L538.0 1439.7 L550.8 1438.3 L562.2 1439.0 L568.6 1441.1"/>
<path d="M563.9 1397.9 L567.9 1426.9 L568.6 1441.1 L572.8 1446.8 L575.0 1465.3 L580.0 1473.8 L577.8 1492.3"/>
<path d="M575.0 1465.3 L603.4 1464.6 L601.3 1473.8 L623.3 1473.1 L624.7 1479.5 L630.4 1482.4"/>
<path d="M617.6 1406.7 L610.5 1426.9 L604.8 1446.8 L603.4 1464.6"/>
<path d="M617.8 1401.6 L632.7 1399.2 L699.5 1388.5 L742.2 1380.0"/>
<path d="M615.6 1413.4 L664.0 1414.1 L688.2 1412.7"/>
<path d="M637.7 1414.1 L636.3 1465.3 L638.4 1479.5"/>
<path d="M664.0 1414.1 L673.9 1448.2 L677.5 1469.6"/>
<path d="M646.9 1471.0 L677.5 1469.6 L709.5 1468.2 L710.9 1463.9 L718.0 1463.9"/>
<path d="M688.2 1412.7 L702.4 1426.9 L713.7 1438.3 L719.4 1446.8"/>
<path d="M688.2 1412.7 L699.5 1407.0 L713.7 1406.3 L716.6 1409.1 L728.0 1407.7 L743.6 1417.0"/>
<path d="M676.8 1412.7 L691.0 1398.5 L702.4 1388.5"/>
<path d="M640.0 1393.4 L679.8 1390.5 L688.3 1380.6 L699.7 1380.6 L719.6 1357.8 L725.3 1343.6"/>
<path d="M679.8 1390.5 L760.1 1377.2"/>
</g>
<path d="M199.5 1368.3 L206.6 1371.8 L218.5 1374.2 L228.0 1375.4 L235.1 1376.0 L237.4 1389.6 L240.4 1407.4 L243.4 1424.0 L244.8 1433.5 L252.8 1435.2 L258.2 1440.8 L261.1 1434.9 L264.7 1434.1 L276.5 1443.5 L289.6 1453.0 L290.3 1458.9 L281.9 1462.8 L275.4 1457.2 L265.9 1447.7 L257.6 1443.2 L250.5 1439.6 L243.4 1437.3 L236.3 1437.0 L230.3 1438.4 L225.6 1435.8 L220.9 1440.6 L216.7 1445.3 L212.6 1451.8 L209.0 1457.7 L205.5 1463.3 L202.6 1464.7 L204.7 1458.3 L208.5 1450.0 L212.3 1442.0 L216.7 1433.5 L212.6 1435.4 L209.6 1441.8 L205.2 1450.0 L200.7 1457.4 L194.8 1464.3 L187.7 1469.2 L182.9 1472.1 L175.8 1474.0 L166.4 1476.4 L156.9 1478.7 L147.4 1480.4 L139.1 1481.0 L129.6 1479.9 L117.8 1477.5 L107.1 1477.3 L108.3 1475.2 L117.8 1476.4 L129.6 1478.5 L139.1 1479.7 L149.8 1477.3 L161.6 1473.2 L171.1 1469.0 L178.2 1464.9 L185.3 1460.7 L190.0 1454.8 L193.6 1450.0 L187.7 1448.9 L181.8 1447.7 L179.4 1441.8 L173.5 1439.4 L169.9 1433.5 L168.5 1427.5 L171.1 1422.8 L177.0 1419.2 L182.9 1416.9 L186.7 1413.3 L182.9 1410.9 L175.8 1409.8 L171.1 1407.4 L168.1 1400.9 L173.5 1399.1 L181.8 1397.3 L184.4 1400.0 L182.9 1393.2 L178.2 1388.4 L174.6 1384.9 L180.6 1381.9 L187.7 1376.6 L194.8 1371.8Z" fill="#5590c3" />
<path d="M154.5 1410.9 L158.1 1410.4 L164.0 1415.7 L161.6 1418.3 L156.9 1415.7Z" fill="#5590c3" />
<path d="M162.8 1435.2 L168.5 1434.9 L168.7 1438.4 L164.6 1439.1Z" fill="#5590c3" />
<path d="M146.2 1428.5 L147.6 1428.1 L148.8 1431.1 L147.4 1431.8Z" fill="#5590c3" />
<path d="M296.4 1482.0 L303.5 1476.1 L310.6 1475.7 L311.5 1479.3 L307.0 1482.0 L302.6 1480.7Z" fill="#5590c3" />
<path d="M324.8 1485.5 L329.3 1482.8 L333.2 1487.3 L331.9 1490.0 L327.5 1489.1Z" fill="#5590c3" />
<path d="M339.0 1490.8 L346.1 1490.0 L352.4 1493.5 L358.1 1497.1 L355.9 1499.9 L348.8 1500.6 L345.3 1496.2 L339.9 1493.5Z" fill="#5590c3" />
<path d="M358.6 1504.2 L366.6 1505.1 L375.8 1514.8 L366.6 1521.1 L362.7 1524.1 L359.5 1521.9 L359.1 1513.1 L357.3 1508.6Z" fill="#5590c3" />
<text x="152.67" y="1356.70" font-size="18.00" fill="#666" textLength="104.26" lengthAdjust="spacingAndGlyphs">Pacific &lt;1%</text>
<text x="340.43" y="1329.50" font-size="22.00" fill="#fff" textLength="61.54" lengthAdjust="spacingAndGlyphs" stroke="#fff" stroke-width="0.4" stroke-linejoin="round">West</text>
<text x="326.90" y="1368.20" font-size="40.00" fill="#fff" font-weight="bold" textLength="87.20" lengthAdjust="spacingAndGlyphs" stroke="#fff" stroke-width="1.6" stroke-linejoin="round">25%</text>
<text x="506.23" y="1321.50" font-size="22.00" fill="#fff" textLength="101.54" lengthAdjust="spacingAndGlyphs" stroke="#fff" stroke-width="0.4" stroke-linejoin="round">Midwest</text>
<text x="514.40" y="1357.70" font-size="40.00" fill="#fff" font-weight="bold" textLength="87.20" lengthAdjust="spacingAndGlyphs" stroke="#fff" stroke-width="1.6" stroke-linejoin="round">22%</text>
<text x="579.23" y="1428.50" font-size="22.00" fill="#fff" textLength="72.04" lengthAdjust="spacingAndGlyphs" stroke="#fff" stroke-width="0.4" stroke-linejoin="round">South</text>
<text x="568.40" y="1465.70" font-size="40.00" fill="#fff" font-weight="bold" textLength="93.20" lengthAdjust="spacingAndGlyphs" stroke="#fff" stroke-width="1.6" stroke-linejoin="round">40%</text>
<text x="692.66" y="1285.50" font-size="18.40" fill="#666" textLength="93.79" lengthAdjust="spacingAndGlyphs" stroke="#666" stroke-width="0.3" stroke-linejoin="round">Northeast</text>
<text x="713.40" y="1319.70" font-size="40.00" fill="#fff" font-weight="bold" textLength="77.70" lengthAdjust="spacingAndGlyphs" stroke="#fff" stroke-width="1.6" stroke-linejoin="round">13%</text>
<text x="197.85" y="1574.50" font-size="18.50" fill="#777" font-style="italic" textLength="541.29" lengthAdjust="spacingAndGlyphs" stroke="#ececec" stroke-width="0.4" stroke-linejoin="round">*Percentages from 4,192 medical spas reporting locations.</text>
<path d="M928.2 1269.0 L992.7 1269.5 L993.0 1318.6 L1000.6 1323.0 L1008.2 1323.9 L1010.1 1327.7 L1023.4 1330.6 L1034.7 1334.4 L1040.4 1337.2 L1053.7 1338.2 L1065.1 1337.2 L1074.5 1338.2 L1082.1 1335.3 L1095.4 1333.4 L1103.0 1337.2 L1110.6 1341.0 L1121.9 1342.3 L1122.9 1371.3 L1127.6 1382.7 L1133.3 1396.0 L1135.6 1407.3 L1133.3 1420.6 L1131.4 1432.0 L1131.4 1443.4 L1121.9 1446.2 L1112.5 1450.9 L1103.0 1458.5 L1091.6 1468.0 L1078.3 1475.6 L1068.9 1483.2 L1061.3 1492.7 L1055.6 1504.0 L1053.7 1515.4 L1055.6 1526.8 L1059.4 1540.0 L1053.7 1545.7 L1044.2 1542.9 L1030.9 1538.2 L1019.6 1532.5 L1012.0 1526.8 L1008.2 1515.4 L1002.5 1504.0 L994.9 1492.7 L987.3 1477.5 L979.8 1464.2 L970.3 1454.7 L962.7 1446.2 L953.2 1443.4 L940.0 1442.4 L932.4 1445.3 L926.7 1456.6 L921.0 1464.2 L913.4 1461.4 L903.9 1454.7 L892.6 1447.2 L886.9 1437.7 L885.0 1426.3 L877.4 1416.8 L867.9 1407.3 L858.4 1397.9 L850.9 1388.4 L845.2 1382.7 L924.8 1385.0Z" fill="#0e5c9e" />
<path d="M1167.4 1322.0 L1246.1 1321.7 L1246.6 1391.2 L1264.1 1407.3 L1290.6 1432.0 L1319.1 1458.5 L1347.5 1485.1 L1363.6 1500.2 L1360.8 1505.9 L1357.0 1513.5 L1356.0 1523.0 L1358.9 1530.6 L1355.1 1539.1 L1328.5 1541.9 L1304.8 1544.8 L1302.0 1534.4 L1294.4 1524.9 L1286.8 1517.3 L1277.3 1511.6 L1269.8 1507.8 L1256.5 1504.0 L1243.2 1500.2 L1233.7 1494.5 L1231.8 1483.2 L1226.2 1473.7 L1218.6 1464.2 L1211.0 1456.6 L1208.2 1450.9 L1211.0 1443.4 L1203.4 1433.9 L1195.8 1424.4 L1190.1 1420.6 L1189.2 1413.0 L1184.5 1401.7 L1176.9 1390.3 L1173.1 1378.9 L1171.2 1369.4 L1163.6 1361.8 L1165.5 1352.4 L1169.3 1341.0 L1168.3 1329.6Z" fill="#32a8df" />
<path d="M1239.4 1509.7 L1256.5 1511.2 L1255.5 1513.5 L1241.3 1512.6Z" fill="#32a8df" />
<path d="M1265.6 1521.5 L1269.8 1522.6 L1268.8 1525.3 L1266.0 1524.1Z" fill="#32a8df" />
<path d="M1256.1 1527.7 L1260.3 1529.1 L1259.5 1531.3 L1256.5 1530.2Z" fill="#32a8df" />
<path d="M1275.5 1533.4 L1281.5 1538.2 L1280.4 1540.0 L1275.8 1536.3Z" fill="#32a8df" />
<path d="M1285.6 1325.8 L1356.7 1321.7 L1359.5 1329.6 L1430.6 1330.6 L1434.4 1334.4 L1436.3 1322.0 L1451.5 1323.9 L1453.4 1333.4 L1457.2 1346.7 L1464.7 1360.0 L1470.4 1371.3 L1474.2 1378.9 L1481.8 1388.4 L1481.8 1396.0 L1487.5 1407.3 L1495.1 1422.5 L1500.8 1437.7 L1502.7 1450.9 L1502.7 1466.1 L1500.8 1481.3 L1497.0 1492.7 L1491.3 1500.2 L1483.7 1502.1 L1478.0 1496.4 L1474.2 1492.7 L1470.4 1481.3 L1462.8 1475.6 L1455.3 1471.8 L1451.5 1460.4 L1443.9 1454.7 L1440.1 1445.3 L1436.3 1439.6 L1430.6 1432.0 L1424.9 1426.3 L1428.7 1418.7 L1421.1 1416.8 L1419.2 1409.2 L1423.0 1397.9 L1419.2 1386.5 L1411.7 1375.1 L1404.1 1365.6 L1396.5 1356.2 L1388.9 1350.5 L1379.4 1349.5 L1371.8 1356.2 L1362.4 1363.7 L1354.8 1364.7 L1347.2 1362.8 L1345.3 1356.2 L1335.8 1348.6 L1326.4 1342.9 L1313.1 1342.9 L1301.7 1342.9 L1290.3 1346.7 L1289.4 1339.1Z" fill="#0e5c9e" />
<path d="M1448 1515 Q1472 1512 1492 1495" fill="none" stroke="#0e5c9e" stroke-width="1.6" stroke-dasharray="5 2.5"/>
<text x="1009.20" y="1287.00" font-size="23.00" fill="#666" textLength="66.11" lengthAdjust="spacingAndGlyphs">Texas</text>
<text x="1143.79" y="1287.00" font-size="23.00" fill="#666" textLength="116.31" lengthAdjust="spacingAndGlyphs">California</text>
<text x="1343.79" y="1287.00" font-size="23.00" fill="#666" textLength="86.41" lengthAdjust="spacingAndGlyphs">Florida</text>
<text x="993.20" y="1410.50" font-size="23.00" fill="#fff" font-weight="bold" textLength="16.61" lengthAdjust="spacingAndGlyphs" stroke="#fff" stroke-width="1.0" stroke-linejoin="round">#</text>
<path d="M1014.8 1400.7 L1019.6 1396.0 L1028.1 1396.0 L1028.1 1424.4 L1017.5 1424.4 L1017.5 1406.2 L1014.8 1407.3Z" fill="#fff" />
<text x="1200.69" y="1410.50" font-size="23.00" fill="#fff" font-weight="bold" textLength="16.61" lengthAdjust="spacingAndGlyphs" stroke="#fff" stroke-width="1.0" stroke-linejoin="round">#</text>
<text x="1219.90" y="1423.60" font-size="40.00" fill="#fff" font-weight="bold" textLength="24.90" lengthAdjust="spacingAndGlyphs" stroke="#fff" stroke-width="1.6" stroke-linejoin="round">2</text>
<text x="1428.89" y="1410.50" font-size="23.00" fill="#fff" font-weight="bold" textLength="16.61" lengthAdjust="spacingAndGlyphs" stroke="#fff" stroke-width="1.0" stroke-linejoin="round">#</text>
<text x="1446.10" y="1423.60" font-size="40.00" fill="#fff" font-weight="bold" textLength="24.00" lengthAdjust="spacingAndGlyphs" stroke="#fff" stroke-width="1.6" stroke-linejoin="round">3</text>
<text x="150.95" y="1688.30" font-size="24.30" fill="#11599b" font-weight="bold" textLength="215.50" lengthAdjust="spacingAndGlyphs" stroke="#11599b" stroke-width="0.5" stroke-linejoin="round">CLIENT PROFILE</text>
<path d="M286.0 1740.5 C280.3 1735.7 272.7 1734.8 265.1 1736.7 C246.2 1740.5 231.0 1753.7 226.3 1772.7 C221.5 1791.7 222.5 1820.1 219.6 1839.1 C217.7 1852.3 213.9 1861.8 207.9 1869.8 C219.6 1877.0 242.4 1880.8 256.6 1873.6 C261.3 1878.9 264.2 1884.5 262.3 1894.0 C259.4 1909.2 242.4 1918.7 225.3 1924.4 C206.4 1931.0 185.5 1935.7 174.1 1948.1 C168.4 1955.6 168.4 1971.8 169.4 1987.3 L420.6 1987.3 C422.1 1971.8 421.5 1955.6 414.9 1948.1 C403.5 1935.7 382.7 1931.0 363.7 1924.4 C346.6 1917.7 330.5 1907.3 326.7 1894.0 C324.8 1884.5 326.7 1879.2 334.3 1873.6 C346.6 1879.8 371.3 1877.9 384.9 1866.5 C377.9 1856.1 373.2 1846.6 371.7 1829.6 C370.3 1810.6 370.3 1784.1 364.6 1767.0 C358.0 1748.1 340.9 1732.9 318.2 1731.0 C304.9 1730.6 293.6 1734.4 286.0 1740.5Z" fill="#32a8df"/>
<text x="252.93" y="1800.20" font-size="22.00" fill="#fff" textLength="90.54" lengthAdjust="spacingAndGlyphs" stroke="#fff" stroke-width="0.5" stroke-linejoin="round">Female</text>
<text x="254.13" y="1838.20" font-size="39.00" fill="#fff" font-weight="bold" textLength="88.33" lengthAdjust="spacingAndGlyphs" stroke="#fff" stroke-width="1.6" stroke-linejoin="round">85%</text>
<path d="M464.9 1664.9 H773.4 A20 20 0 0 1 793.4 1684.9 V1988.9 A20 20 0 0 1 773.4 2008.9 H464.9Z" fill="#fff"/>
<line x1="464.9" y1="1666.9" x2="464.9" y2="2007.9" stroke="#9fc846" stroke-width="3" stroke-dasharray="9 8.2" stroke-linecap="round"/>
<text x="487.65" y="1711.40" font-size="21.30" fill="#666666" textLength="211.49" lengthAdjust="spacingAndGlyphs" stroke="#666666" stroke-width="0.3" stroke-linejoin="round">More than 85% of a</text>
<text x="487.65" y="1738.04" font-size="21.30" fill="#666666" textLength="265.49" lengthAdjust="spacingAndGlyphs" stroke="#666666" stroke-width="0.3" stroke-linejoin="round">medical spa’s clients are</text>
<text x="487.65" y="1764.68" font-size="21.30" fill="#666666" textLength="227.49" lengthAdjust="spacingAndGlyphs" stroke="#666666" stroke-width="0.3" stroke-linejoin="round">female. However, the</text>
<text x="487.65" y="1791.32" font-size="21.30" fill="#666666" textLength="267.49" lengthAdjust="spacingAndGlyphs" stroke="#666666" stroke-width="0.3" stroke-linejoin="round">share of male customers</text>
<text x="487.65" y="1817.96" font-size="21.30" fill="#666666" textLength="207.29" lengthAdjust="spacingAndGlyphs" stroke="#666666" stroke-width="0.3" stroke-linejoin="round">may well be on the</text>
<text x="487.65" y="1844.60" font-size="21.30" fill="#666666" textLength="275.49" lengthAdjust="spacingAndGlyphs" stroke="#666666" stroke-width="0.3" stroke-linejoin="round">increase, as medical spas</text>
<text x="487.65" y="1871.24" font-size="21.30" fill="#666666" textLength="268.49" lengthAdjust="spacingAndGlyphs" stroke="#666666" stroke-width="0.3" stroke-linejoin="round">are starting to specialize</text>
<text x="487.65" y="1897.88" font-size="21.30" fill="#666666" textLength="267.49" lengthAdjust="spacingAndGlyphs" stroke="#666666" stroke-width="0.3" stroke-linejoin="round">in marketing to men and</text>
<text x="487.65" y="1924.52" font-size="21.30" fill="#666666" textLength="234.99" lengthAdjust="spacingAndGlyphs" stroke="#666666" stroke-width="0.3" stroke-linejoin="round">making their facilities</text>
<text x="487.65" y="1951.16" font-size="21.30" fill="#666666" textLength="212.49" lengthAdjust="spacingAndGlyphs" stroke="#666666" stroke-width="0.3" stroke-linejoin="round">more male-friendly.</text>
<circle cx="1009.5" cy="1833.2" r="159.7" fill="#32a8df"/>
<path d="M1009.5 1833.2 L1009.50 1673.00 A160.2 160.2 0 1 1 990.25 1992.24Z" fill="#0e5c9e"/>
<path d="M1009.5 1833.2 L990.25 1992.24 A160.2 160.2 0 0 1 866.76 1760.47Z" fill="#32a8df"/>
<path d="M1009.5 1833.2 L866.76 1760.47 A160.2 160.2 0 0 1 998.05 1673.41Z" fill="#9fc846"/>
<path d="M1009.5 1833.2 L998.05 1673.41 A160.2 160.2 0 0 1 1009.50 1673.00Z" fill="#9dd5f3"/>
<text x="961.00" y="1663.50" font-size="17.00" fill="#666" textLength="84.19" lengthAdjust="spacingAndGlyphs" stroke="#666" stroke-width="0.5" stroke-linejoin="round">Other 1%</text>
<text x="897.83" y="1741.90" font-size="22.00" fill="#fff" textLength="101.84" lengthAdjust="spacingAndGlyphs" stroke="#fff" stroke-width="0.45" stroke-linejoin="round">17-34yrs</text>
<text x="915.12" y="1781.00" font-size="39.50" fill="#fff" font-weight="bold" textLength="77.97" lengthAdjust="spacingAndGlyphs" stroke="#fff" stroke-width="1.6" stroke-linejoin="round">17%</text>
<text x="895.73" y="1851.10" font-size="22.00" fill="#fff" textLength="81.54" lengthAdjust="spacingAndGlyphs" stroke="#fff" stroke-width="0.45" stroke-linejoin="round">55+yrs</text>
<text x="893.82" y="1889.80" font-size="39.50" fill="#fff" font-weight="bold" textLength="91.77" lengthAdjust="spacingAndGlyphs" stroke="#fff" stroke-width="1.6" stroke-linejoin="round">30%</text>
<text x="1024.73" y="1825.10" font-size="22.00" fill="#fff" textLength="108.24" lengthAdjust="spacingAndGlyphs" stroke="#fff" stroke-width="0.45" stroke-linejoin="round">35-54yrs</text>
<text x="1039.92" y="1864.20" font-size="39.50" fill="#fff" font-weight="bold" textLength="85.37" lengthAdjust="spacingAndGlyphs" stroke="#fff" stroke-width="1.6" stroke-linejoin="round">52%</text>
<path d="M1223.2 1664.9 H1533.4 A20 20 0 0 1 1553.4 1684.9 V1988.9 A20 20 0 0 1 1533.4 2008.9 H1223.2Z" fill="#fff"/>
<line x1="1223.2" y1="1666.9" x2="1223.2" y2="2007.9" stroke="#9fc846" stroke-width="3" stroke-dasharray="9 8.2" stroke-linecap="round"/>
<text x="1246.55" y="1711.40" font-size="21.30" fill="#666666" textLength="266.99" lengthAdjust="spacingAndGlyphs" stroke="#666666" stroke-width="0.3" stroke-linejoin="round">Most medical spa clients</text>
<text x="1246.55" y="1738.04" font-size="21.30" fill="#666666" textLength="238.19" lengthAdjust="spacingAndGlyphs" stroke="#666666" stroke-width="0.3" stroke-linejoin="round">are middle-aged, 52%</text>
<text x="1246.55" y="1764.68" font-size="21.30" fill="#666666" textLength="275.49" lengthAdjust="spacingAndGlyphs" stroke="#666666" stroke-width="0.3" stroke-linejoin="round">between 35 and 54 years</text>
<text x="1246.55" y="1791.32" font-size="21.30" fill="#666666" textLength="264.89" lengthAdjust="spacingAndGlyphs" stroke="#666666" stroke-width="0.3" stroke-linejoin="round">old. Another nearly 30%</text>
<text x="1246.55" y="1817.96" font-size="21.30" fill="#666666" textLength="271.29" lengthAdjust="spacingAndGlyphs" stroke="#666666" stroke-width="0.3" stroke-linejoin="round">are 55 years old or older,</text>
<text x="1246.55" y="1844.60" font-size="21.30" fill="#666666" textLength="271.29" lengthAdjust="spacingAndGlyphs" stroke="#666666" stroke-width="0.3" stroke-linejoin="round">generally considered the</text>
<text x="1246.55" y="1871.24" font-size="21.30" fill="#666666" textLength="279.79" lengthAdjust="spacingAndGlyphs" stroke="#666666" stroke-width="0.3" stroke-linejoin="round">Baby Boomer generation.</text>
<text x="1246.55" y="1897.88" font-size="21.30" fill="#666666" textLength="228.49" lengthAdjust="spacingAndGlyphs" stroke="#666666" stroke-width="0.3" stroke-linejoin="round">A respectable 17% of</text>
<text x="1246.55" y="1924.52" font-size="21.30" fill="#666666" textLength="268.09" lengthAdjust="spacingAndGlyphs" stroke="#666666" stroke-width="0.3" stroke-linejoin="round">clients fall into the 18- to</text>
<text x="1246.55" y="1951.16" font-size="21.30" fill="#666666" textLength="193.49" lengthAdjust="spacingAndGlyphs" stroke="#666666" stroke-width="0.3" stroke-linejoin="round">34-year-old class,</text>
<text x="1246.55" y="1977.80" font-size="21.30" fill="#666666" textLength="160.49" lengthAdjust="spacingAndGlyphs" stroke="#666666" stroke-width="0.3" stroke-linejoin="round">the Millennials.</text>
<text x="162.44" y="2094.40" font-size="21.80" fill="#5e5e5e" textLength="823.73" lengthAdjust="spacingAndGlyphs" stroke="#5e5e5e" stroke-width="0.35" stroke-linejoin="round">For more information, contact info@americanmedspa.org or 312-981-0993.</text>
<text x="1227.30" y="2095.00" font-size="20.00" fill="#777" font-style="italic" textLength="136.40" lengthAdjust="spacingAndGlyphs" stroke="#fff" stroke-width="0.5" stroke-linejoin="round">Sponsored by:</text>
<text x="1393.24" y="2093.80" font-size="16.00" fill="#111" font-weight="bold" textLength="54.82" lengthAdjust="spacingAndGlyphs" stroke="#111" stroke-width="0.5" stroke-linejoin="round">Modern</text>
<text x="1371.46" y="2127.50" font-size="52.50" fill="#111" textLength="178.68" lengthAdjust="spacingAndGlyphs" stroke="#fff" stroke-width="1.0" stroke-linejoin="round">Aesthetics</text>
</svg></body></html>
